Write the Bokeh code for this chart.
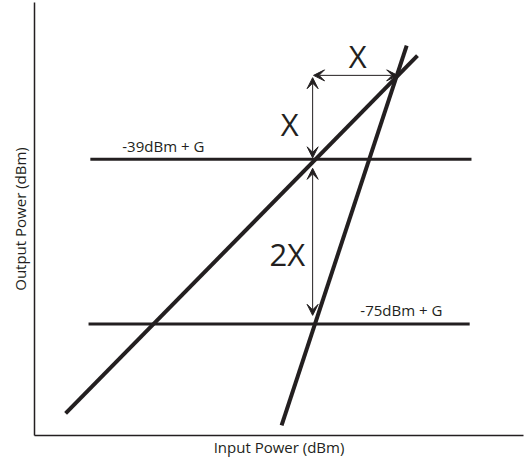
from bokeh.plotting import figure
from bokeh.models import ColumnDataSource, Arrow, VeeHead, FixedTicker, Range1d
from bokeh.core.properties import value
from bokeh.embed import file_html
from bokeh.resources import INLINE

# Fundamental (slope 1) and third-order (slope 3) response lines, in dBm
fund_x = [-94.2, -16.0]
fund_y = [-94.5, -16.4]
im3_x = [-46.2, -18.4]
im3_y = [-97.1, -14.2]

# Reference output levels
level_labels = ["-39dBm + G", "-75dBm + G"]
level_y = [-39, -75]
level_x0 = [-88.7, -89.1]
level_x1 = [-4.0, -4.4]
level_label_x = [-81.6, -28.7]
level_label_y = [-36.1, -71.9]

# Dimension arrows (X, X, 2X)
arrow_x0 = [-39.3, -39.1, -39.3]
arrow_y0 = [-21.2, -20.7, -41.0]
arrow_x1 = [-39.3, -20.4, -39.3]
arrow_y1 = [-38.7, -20.7, -73.1]
dim_labels = ["X", "X", "2X"]
dim_label_x = [-29.3, -44.4, -44.9]
dim_label_y = [-16.45, -31.4, -59.8]

INK = "#231f20"
FONT = "Open Sans"

p = figure(width=525, height=460, output_backend="svg", toolbar_location=None,
           x_range=Range1d(-101.11, 7.56), y_range=Range1d(-99.33, -4.79),
           min_border_left=34, min_border_bottom=25, min_border_top=2, min_border_right=2)
p.outline_line_color = None
p.grid.visible = False
p.background_fill_color = "white"

for ax in (p.xaxis[0], p.yaxis[0]):
    ax.ticker = FixedTicker(ticks=[])
    ax.major_tick_out = 0
    ax.major_tick_in = 0
    ax.minor_tick_out = 0
    ax.minor_tick_in = 0
    ax.major_label_standoff = 0
    ax.major_label_text_font_size = "0px"
    ax.axis_line_color = INK
    ax.axis_line_width = 1.5
    ax.axis_label_text_font = FONT
    ax.axis_label_text_font_size = "15px"
    ax.axis_label_text_font_style = "normal"
    ax.axis_label_text_color = INK
p.xaxis.axis_label = "Input Power (dBm)"
p.yaxis.axis_label = "Output Power (dBm)"
p.xaxis.axis_label_standoff = 1
p.yaxis.axis_label_standoff = 5

# Horizontal reference levels
p.segment(x0=level_x0, y0=level_y, x1=level_x1, y1=level_y,
          line_color=INK, line_width=3, line_cap="butt")

# Response lines
p.line(fund_x, fund_y, line_color=INK, line_width=4, line_cap="butt")
p.line(im3_x, im3_y, line_color=INK, line_width=4, line_cap="butt")

# Arrows
asrc = ColumnDataSource(dict(x0=arrow_x0, y0=arrow_y0, x1=arrow_x1, y1=arrow_y1))
p.add_layout(Arrow(x_start="x0", y_start="y0", x_end="x1", y_end="y1", source=asrc,
                   line_color=INK, line_width=1,
                   start=VeeHead(size=11, fill_color=INK, line_color=INK, line_width=1),
                   end=VeeHead(size=11, fill_color=INK, line_color=INK, line_width=1)))

# Labels
p.text(x=level_label_x, y=level_label_y, text=level_labels,
       text_font=value(FONT), text_font_size="15px", text_color=INK,
       text_align="left", text_baseline="alphabetic")
p.text(x=dim_label_x, y=dim_label_y, text=dim_labels,
       text_font=value(FONT), text_font_size="31px", text_color=INK,
       text_align="center", text_baseline="alphabetic")

open("out.html", "w").write(file_html(p, INLINE))
